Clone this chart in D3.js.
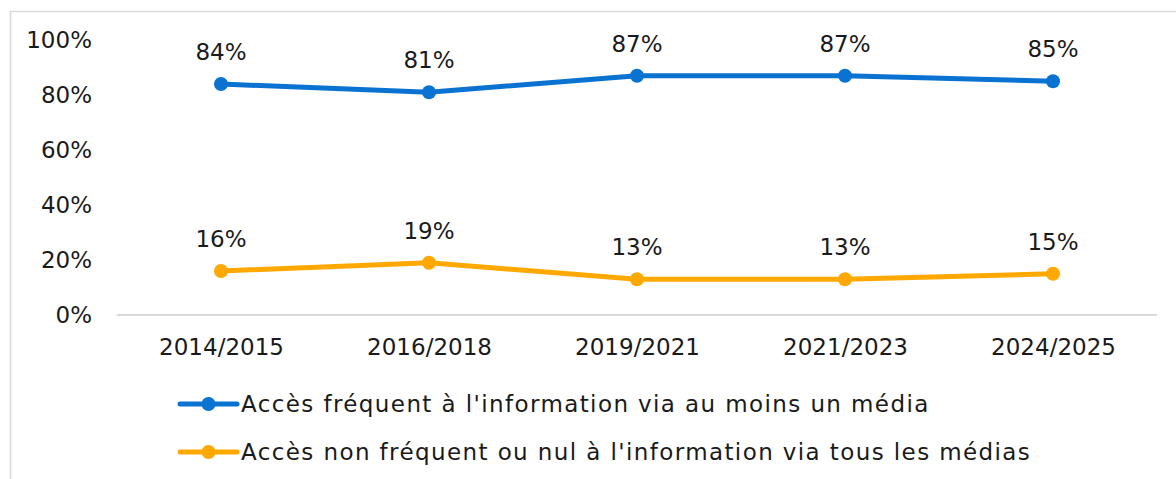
<!DOCTYPE html>
<html>
<head>
<meta charset="utf-8">
<script src="https://cdn.jsdelivr.net/npm/d3@7"></script>
<style>
  body { margin: 0; background: #fff; }
  svg text { font-family: "DejaVu Sans", sans-serif; fill: #1a1a1a; }
</style>
</head>
<body>
<div id="chart"></div>
<script>
var periods = ["2014/2015", "2016/2018", "2019/2021", "2021/2023", "2024/2025"];
var frequent = [84, 81, 87, 87, 85];
var rare = [16, 19, 13, 13, 15];
var yTicks = [0, 20, 40, 60, 80, 100];
var seriesNames = [
  "Accès fréquent à l'information via au moins un média",
  "Accès non fréquent ou nul à l'information via tous les médias"
];
var seriesColors = ["#0a73d2", "#ffa800"];

var w = 1176, h = 479;
var fs = "23px";

var svg = d3.select("#chart").append("svg")
    .attr("width", w)
    .attr("height", h);

// light frame (top + left)
svg.append("path")
    .attr("d", "M10.5," + h + "V11.5H" + w)
    .attr("fill", "none")
    .attr("stroke", "#d9d9d9")
    .attr("stroke-width", 1.5);

var x = d3.scalePoint()
    .domain(periods)
    .range([117, 1157])
    .padding(0.5);

var y = d3.scaleLinear()
    .domain([0, 100])
    .range([315, 40]);

// baseline
svg.append("line")
    .attr("x1", 117).attr("x2", 1157)
    .attr("y1", y(0)).attr("y2", y(0))
    .attr("stroke", "#d9d9d9")
    .attr("stroke-width", 2);

var yAxis = svg.append("g")
    .attr("transform", "translate(92,0)")
    .call(d3.axisLeft(y).tickValues(yTicks).tickSize(0).tickPadding(0)
      .tickFormat(function(d) { return d + "%"; }));
yAxis.select(".domain").remove();
yAxis.selectAll("text").style("font-size", fs).attr("fill", "#1a1a1a");

var xAxis = svg.append("g")
    .attr("transform", "translate(0," + y(0) + ")")
    .call(d3.axisBottom(x).tickSize(0).tickPadding(24));
xAxis.select(".domain").remove();
xAxis.selectAll("text").style("font-size", fs).attr("fill", "#1a1a1a");

var series = [frequent, rare];

var line = d3.line()
    .x(function(d, i) { return x(periods[i]); })
    .y(function(d) { return y(d); });

series.forEach(function(vals, s) {
  svg.append("path")
      .datum(vals)
      .attr("d", line)
      .attr("fill", "none")
      .attr("stroke", seriesColors[s])
      .attr("stroke-width", 5)
      .attr("stroke-linejoin", "round");

  svg.selectAll(".pt" + s)
      .data(vals)
      .enter().append("circle")
      .attr("cx", function(d, i) { return x(periods[i]); })
      .attr("cy", function(d) { return y(d); })
      .attr("r", 7)
      .attr("fill", seriesColors[s]);

  svg.selectAll(".lbl" + s)
      .data(vals)
      .enter().append("text")
      .attr("x", function(d, i) { return x(periods[i]); })
      .attr("y", function(d) { return y(d) - 24; })
      .attr("text-anchor", "middle")
      .style("font-size", fs)
      .text(function(d) { return d + "%"; });
});

// legend
var legend = svg.selectAll(".legend")
    .data(seriesNames)
    .enter().append("g")
    .attr("transform", function(d, i) { return "translate(180," + (404 + i * 48) + ")"; });

legend.append("line")
    .attr("x1", 0).attr("x2", 57)
    .attr("stroke", function(d, i) { return seriesColors[i]; })
    .attr("stroke-width", 5)
    .attr("stroke-linecap", "round");

legend.append("circle")
    .attr("cx", 28.5)
    .attr("r", 7)
    .attr("fill", function(d, i) { return seriesColors[i]; });

legend.append("text")
    .attr("x", 61)
    .attr("dy", "0.36em")
    .style("font-size", fs)
    .style("letter-spacing", "1.4px")
    .text(function(d) { return d; });
</script>
</body>
</html>
